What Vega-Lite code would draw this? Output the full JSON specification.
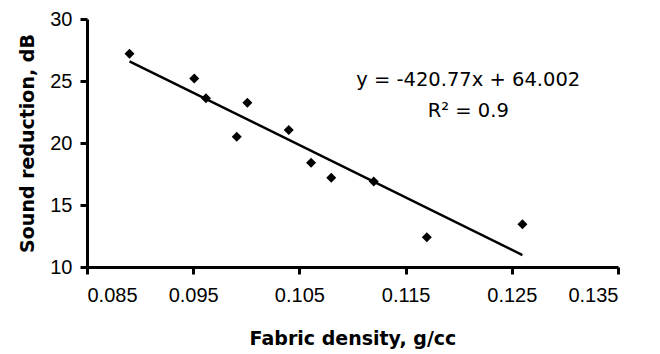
{
  "$schema": "https://vega.github.io/schema/vega-lite/v6.json",
  "width": 531,
  "height": 248,
  "autosize": {"type": "none"},
  "padding": {"left": 87, "top": 19, "right": 42, "bottom": 87},
  "background": "white",
  "config": {
    "view": {"stroke": null},
    "font": "Liberation Sans",
    "axis": {
      "grid": false,
      "domainColor": "black",
      "domainWidth": 3,
      "tickColor": "black",
      "tickWidth": 3,
      "tickSize": 7,
      "labelColor": "black",
      "labelFontSize": 20,
      "labelFont": "Liberation Sans",
      "titleFont": "DejaVu Sans",
      "titleFontSize": 19,
      "titleFontWeight": "bold",
      "titleColor": "black"
    }
  },
  "datasets": {
    "pts": [
      {"density": 0.0890, "reduction": 27.2},
      {"density": 0.0951, "reduction": 25.2},
      {"density": 0.0962, "reduction": 23.6},
      {"density": 0.0991, "reduction": 20.5},
      {"density": 0.1001, "reduction": 23.25},
      {"density": 0.1040, "reduction": 21.05},
      {"density": 0.1061, "reduction": 18.4},
      {"density": 0.1080, "reduction": 17.2},
      {"density": 0.1120, "reduction": 16.9},
      {"density": 0.1170, "reduction": 12.4},
      {"density": 0.1260, "reduction": 13.45}
    ],
    "labels": [
      {"density": 0.1209, "reduction": 25.1, "text": "y = -420.77x  + 64.002"},
      {"density": 0.1209, "reduction": 22.6, "text": "R² = 0.9"}
    ]
  },
  "layer": [
    {
      "data": {"name": "pts"},
      "transform": [{"regression": "reduction", "on": "density"}],
      "mark": {"type": "line", "color": "black", "strokeWidth": 2.5},
      "encoding": {
        "x": {"field": "density", "type": "quantitative"},
        "y": {"field": "reduction", "type": "quantitative"}
      }
    },
    {
      "data": {"name": "pts"},
      "mark": {"type": "point", "shape": "diamond", "filled": true, "color": "black", "opacity": 1, "size": 100},
      "encoding": {
        "x": {
          "field": "density", "type": "quantitative",
          "scale": {"domain": [0.085, 0.135], "nice": false, "zero": false},
          "axis": {"values": [0.085, 0.095, 0.105, 0.115, 0.125, 0.135], "format": ".3f", "title": "Fabric density, g/cc", "labelPadding": 11, "titlePadding": 24}
        },
        "y": {
          "field": "reduction", "type": "quantitative",
          "scale": {"domain": [10, 30], "nice": false, "zero": false},
          "axis": {"values": [10, 15, 20, 25, 30], "title": "Sound reduction, dB", "labelPadding": 8, "titlePadding": 12}
        }
      }
    },
    {
      "data": {"name": "labels"},
      "mark": {"type": "text", "fontSize": 19.5, "font": "DejaVu Sans", "color": "black", "align": "center", "baseline": "middle"},
      "encoding": {
        "x": {"field": "density", "type": "quantitative"},
        "y": {"field": "reduction", "type": "quantitative"},
        "text": {"field": "text"}
      }
    }
  ]
}
